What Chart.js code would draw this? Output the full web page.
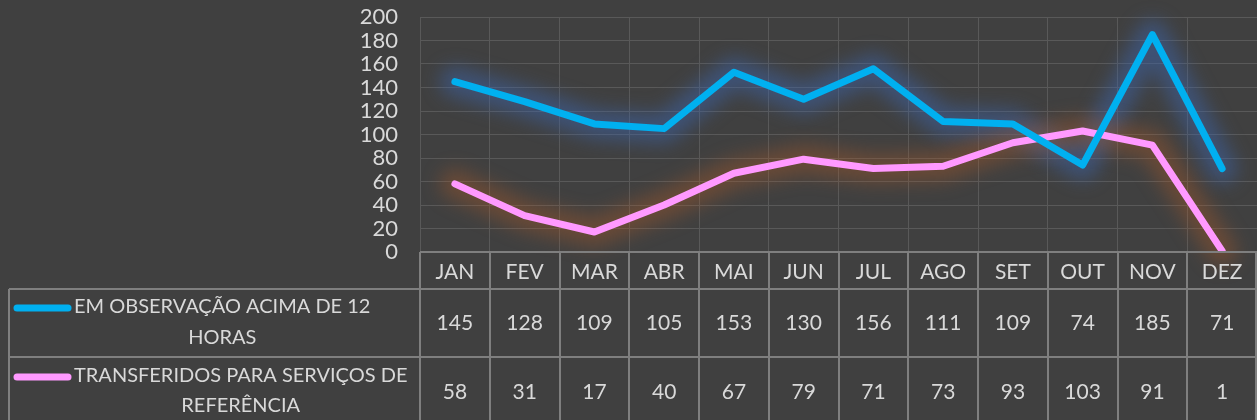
<!DOCTYPE html>
<html>
<head>
<meta charset="utf-8">
<script src="https://cdn.jsdelivr.net/npm/chart.js@4"></script>
<style>
  body { margin: 0; background: #404040; }
  canvas { display: block; }
</style>
</head>
<body>
<canvas id="grafico" width="1257" height="420"></canvas>
<script>
var meses = ['JAN', 'FEV', 'MAR', 'ABR', 'MAI', 'JUN', 'JUL', 'AGO', 'SET', 'OUT', 'NOV', 'DEZ'];
var observacao = [145, 128, 109, 105, 153, 130, 156, 111, 109, 74, 185, 71];
var transferidos = [58, 31, 17, 40, 67, 79, 71, 73, 93, 103, 91, 1];
var nomes = [
    ['EM OBSERVAÇÃO ACIMA DE 12', 'HORAS'],
    ['TRANSFERIDOS PARA SERVIÇOS DE', 'REFERÊNCIA']
];
var cores = ['#00B0F0', '#FF99FF'];
var brilhos = ['rgba(60, 100, 170, 0.5)', 'rgba(170, 90, 40, 0.38)'];

var fonte = 'Lato, "Open Sans", sans-serif';
var corTexto = '#d9d9d9';
var corBorda = '#7f7f7f';

// brilho por baixo das linhas (traço largo desfocado)
var brilhoPlugin = {
    id: 'brilho',
    beforeDatasetsDraw: function (chart) {
        var ctx = chart.ctx;
        chart.data.datasets.forEach(function (ds, k) {
            var pts = chart.getDatasetMeta(k).data;
            ctx.save();
            ctx.filter = 'blur(9px)';
            ctx.strokeStyle = brilhos[k];
            ctx.lineWidth = 30;
            ctx.lineCap = 'round';
            ctx.lineJoin = 'round';
            ctx.beginPath();
            pts.forEach(function (p, i) {
                if (i === 0) ctx.moveTo(p.x, p.y); else ctx.lineTo(p.x, p.y);
            });
            ctx.stroke();
            ctx.restore();
        });
    }
};

// tabela de dados abaixo do grafico
var tabelaPlugin = {
    id: 'tabela',
    afterDraw: function (chart) {
        var ctx = chart.ctx;
        var x = chart.scales.x;
        var area = chart.chartArea;
        var topo = area.bottom;
        var linhas = [topo, 289, 357, 421];
        var esq = 9;
        var larg = (area.right - area.left) / meses.length;

        ctx.save();
        ctx.strokeStyle = corBorda;
        ctx.lineWidth = 2;
        ctx.beginPath();
        ctx.moveTo(area.left, linhas[0]); ctx.lineTo(area.right, linhas[0]);
        ctx.moveTo(esq, linhas[1]); ctx.lineTo(area.right, linhas[1]);
        ctx.moveTo(esq, linhas[2]); ctx.lineTo(area.right, linhas[2]);
        ctx.moveTo(esq, linhas[1]); ctx.lineTo(esq, 420);
        for (var i = 0; i <= meses.length; i++) {
            var vx = Math.round(area.left + i * larg);
            if (i === meses.length) vx = area.right - 1;
            ctx.moveTo(vx, linhas[0]); ctx.lineTo(vx, 420);
        }
        ctx.stroke();

        ctx.fillStyle = corTexto;
        ctx.font = '21px ' + fonte;
        ctx.textAlign = 'center';
        ctx.textBaseline = 'middle';
        meses.forEach(function (m, i) {
            var cx = x.getPixelForValue(i);
            ctx.fillText(m, cx, 272);
            ctx.fillText(String(observacao[i]), cx, 323);
            ctx.fillText(String(transferidos[i]), cx, 392);
        });

        // rotulos das series com a chave da legenda
        ctx.font = '20px ' + fonte;
        var ys = [[307, 338], [376, 406]];
        nomes.forEach(function (n, s) {
            ctx.strokeStyle = cores[s];
            ctx.lineWidth = 7;
            ctx.lineCap = 'round';
            ctx.beginPath();
            ctx.moveTo(17, ys[s][0] + 1);
            ctx.lineTo(68, ys[s][0] + 1);
            ctx.stroke();

            ctx.fillStyle = corTexto;
            ctx.textAlign = 'left';
            var w = ctx.measureText(n[0]).width;
            ctx.fillText(n[0], 74, ys[s][0]);
            ctx.textAlign = 'center';
            ctx.fillText(n[1], 74 + w / 2, ys[s][1]);
        });
        ctx.restore();
    }
};

var ctx = document.getElementById('grafico').getContext('2d');
var grafico = new Chart(ctx, {
    type: 'line',
    data: {
        labels: meses,
        datasets: [{
            label: nomes[0].join(' '),
            data: observacao,
            borderColor: cores[0],
            backgroundColor: cores[0],
            borderWidth: 7,
            borderCapStyle: 'round',
            borderJoinStyle: 'round',
            pointRadius: 0,
            tension: 0
        }, {
            label: nomes[1].join(' '),
            data: transferidos,
            borderColor: cores[1],
            backgroundColor: cores[1],
            borderWidth: 7,
            borderCapStyle: 'round',
            borderJoinStyle: 'round',
            pointRadius: 0,
            tension: 0
        }]
    },
    options: {
        responsive: false,
        animation: false,
        layout: { padding: { top: 17, right: 0, left: 0, bottom: 0 } },
        plugins: {
            legend: { display: false },
            tooltip: { enabled: false }
        },
        scales: {
            x: {
                offset: true,
                grid: { color: '#595959', offset: true, drawTicks: false },
                border: { display: false },
                ticks: { display: false },
                afterFit: function (s) { s.height = 168; }
            },
            y: {
                min: 0,
                max: 200,
                ticks: {
                    stepSize: 20,
                    autoSkip: false,
                    color: corTexto,
                    font: { family: fonte, size: 22 },
                    padding: 22
                },
                grid: { color: '#595959', drawTicks: false },
                border: { color: '#595959' },
                afterFit: function (s) {
                    s.width = 420;
                    s.paddingTop = 0;
                    s.paddingBottom = 0;
                }
            }
        }
    },
    plugins: [brilhoPlugin, tabelaPlugin]
});
</script>
</body>
</html>
